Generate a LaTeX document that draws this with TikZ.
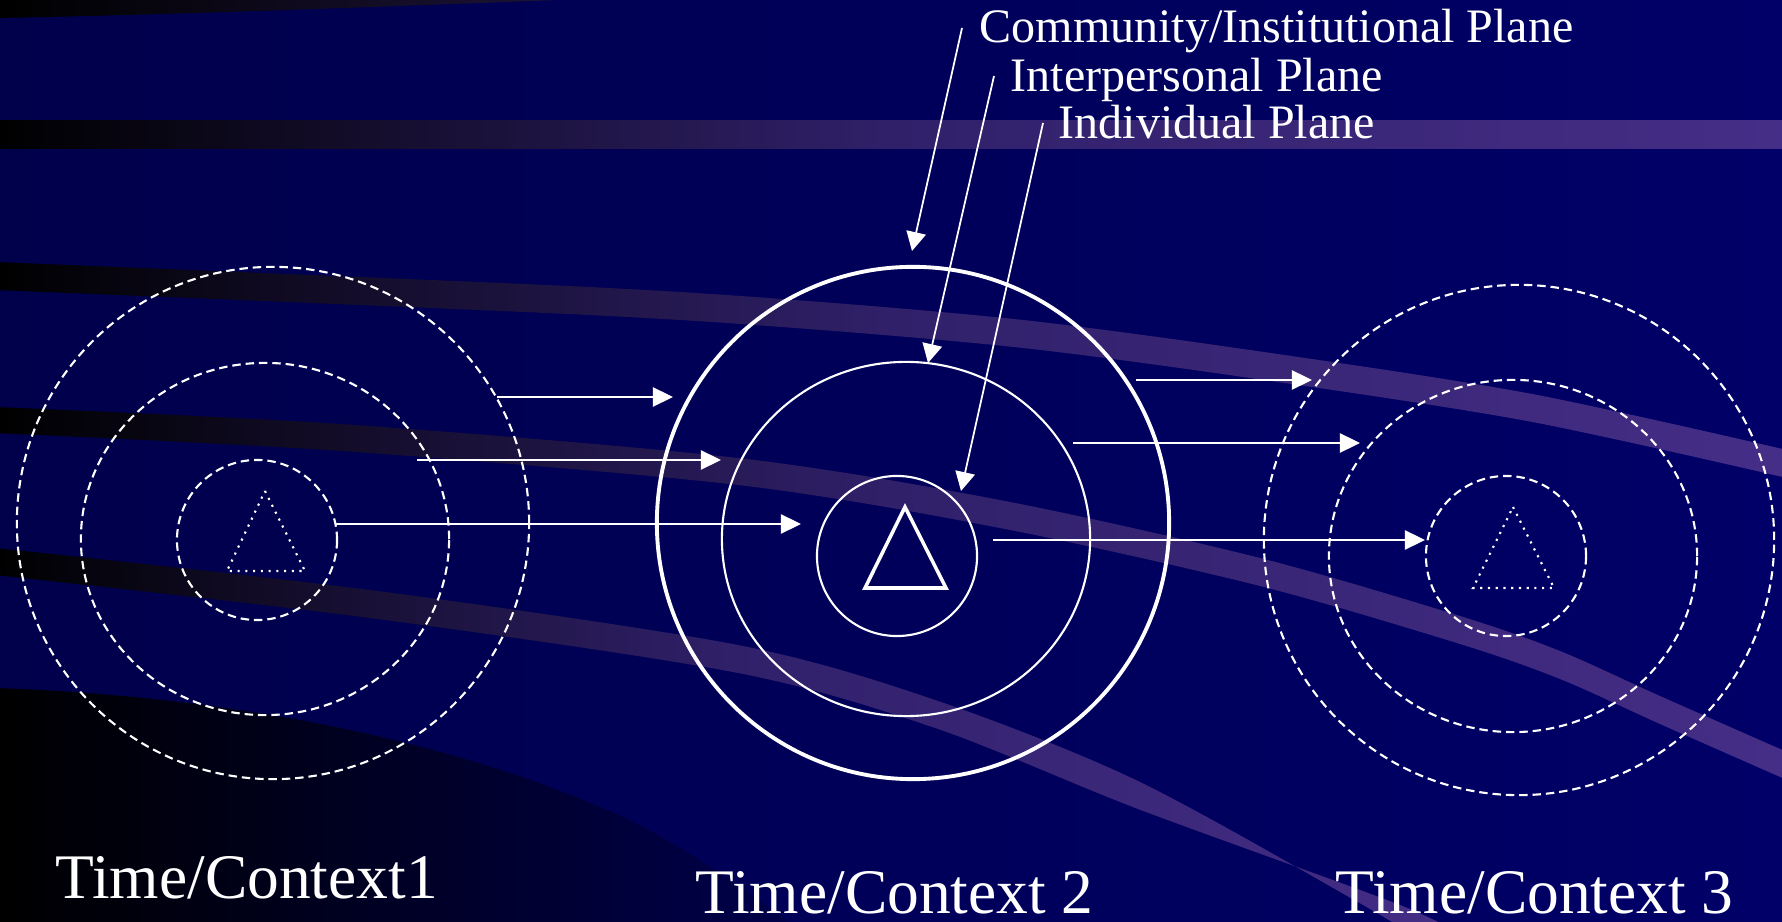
\documentclass[tikz,border=0pt]{standalone}
\usepackage{fontspec}
\setmainfont{Liberation Serif}
\usetikzlibrary{arrows.meta}

\definecolor{navyleft}{RGB}{0,0,75}
\definecolor{navyright}{RGB}{0,0,104}
\definecolor{bandmid}{RGB}{48,32,106}
\definecolor{bandend}{RGB}{69,46,135}

\tikzset{
    ring/.style={draw=white, line width=0.6pt},
    dashring/.style={draw=white, line width=0.6pt, dash pattern=on 2.4pt off 1.4pt},
    dotline/.style={draw=white, line width=0.6pt, dash pattern=on 0.6pt off 1.6pt},
    flow/.style={draw=white, line width=0.7pt, -{Triangle[length=5.7pt,width=5.4pt]}},
    pointer/.style={draw=white, line width=0.5pt, -{Triangle[length=5.4pt,width=5.6pt]}},
    planelabel/.style={anchor=base west, text=white, inner sep=0pt,
        font=\fontsize{13.66pt}{16pt}\selectfont},
    timelabel/.style={anchor=base west, text=white, inner sep=0pt,
        font=\fontsize{18.05pt}{21pt}\selectfont},
    band/.style={left color=black, right color=bandend, middle color=bandmid},
}

\begin{document}
\begin{tikzpicture}[x=0.01cm, y=-0.01cm]

    % Background and the light bands
    \useasboundingbox (0,0) rectangle (1782,922);
    \shade[left color=navyleft, right color=navyright] (0,0) rectangle (1782,922);
    \shade[left color=black, right color=bandend!40!black] (0,0) -- (0,18)
        .. controls (200,14) and (400,6) .. (560,0) -- cycle;
    \shade[band] (-5,121) rectangle (1787,149);
    \shade[band] plot[smooth] coordinates {(-5,262) (568,286) (795,300) (1023,320)
        (1250,350) (1527,393) (1787,450)}
        -- plot[smooth] coordinates {(1787,478) (1527,421) (1250,378) (1023,348)
        (795,328) (568,314) (-5,290)} -- cycle;
    \shade[band] plot[smooth] coordinates {(-5,407) (341,424) (738,458) (1005,501)
        (1260,558) (1460,616) (1560,651) (1660,696) (1787,752)}
        -- plot[smooth] coordinates {(1787,780) (1660,724) (1560,679) (1460,644)
        (1260,586) (1005,529) (738,485) (341,451) (-5,433)} -- cycle;
    \shade[band] plot[smooth] coordinates {(-5,548) (370,590) (738,645) (938,701)
        (1138,781) (1363,905) (1420,940)}
        -- plot[smooth] coordinates {(1470,940) (1400,905) (1138,809) (938,729)
        (738,673) (370,618) (-5,575)} -- cycle;
    \shade[left color=black, middle color=black, right color=navyleft] (-5,688)
        .. controls (230,696) and (455,740) .. (625,818)
        .. controls (700,855) and (760,900) .. (800,930) -- (-5,930) -- cycle;

    % Time/Context 1
    \draw[dashring] (273,523) circle [radius=2.56cm];
    \draw[dashring] (265,539) ellipse [x radius=1.84cm, y radius=1.76cm];
    \draw[dashring] (257,540) circle [radius=0.8cm];
    \draw[dotline] (265,491) -- (305,571) -- (227,571) -- cycle;

    % Time/Context 2
    \draw[white, line width=1.1pt] (913,523) circle [radius=2.56cm];
    \draw[ring] (906,539) ellipse [x radius=1.84cm, y radius=1.77cm];
    \draw[ring] (897,556) circle [radius=0.8cm];
    \draw[white, line width=1pt] (905,507) -- (946,588) -- (865,588) -- cycle;

    % Time/Context 3
    \draw[dashring] (1519,540) circle [radius=2.55cm];
    \draw[dashring] (1513,556) ellipse [x radius=1.84cm, y radius=1.76cm];
    \draw[dashring] (1506,556) circle [radius=0.8cm];
    \draw[dotline] (1513,507) -- (1554,588) -- (1473,588) -- cycle;

    % Ends of the arrows between the contexts
    \coordinate (outA) at (497,397);
    \coordinate (outB) at (673,397);
    \coordinate (midA) at (417,460);
    \coordinate (midB) at (721,460);
    \coordinate (innA) at (336,524);
    \coordinate (innB) at (801,524);
    \coordinate (outC) at (1136,380);
    \coordinate (outD) at (1312,380);
    \coordinate (midC) at (1073,443);
    \coordinate (midD) at (1360,443);
    \coordinate (innC) at (993,540);
    \coordinate (innD) at (1425,540);

    \draw[flow] (outA) -- (outB);
    \draw[flow] (midA) -- (midB);
    \draw[flow] (innA) -- (innB);
    \draw[flow] (outC) -- (outD);
    \draw[flow] (midC) -- (midD);
    \draw[flow] (innC) -- (innD);

    % Label the planes
    \node[planelabel] (community) at (979,43) {Community/Institutional Plane};
    \node[planelabel] (interpersonal) at (1010,92) {Interpersonal Plane};
    \node[planelabel] (individual) at (1058,139) {Individual Plane};

    \coordinate (communityTail) at (962,28);
    \coordinate (communityTip) at (912,251);
    \coordinate (interpersonalTail) at (994,76);
    \coordinate (interpersonalTip) at (928,363);
    \coordinate (individualTail) at (1043,123);
    \coordinate (individualTip) at (961,491);

    \draw[pointer] (communityTail) -- (communityTip);
    \draw[pointer] (interpersonalTail) -- (interpersonalTip);
    \draw[pointer] (individualTail) -- (individualTip);

    % Label the contexts
    \node[timelabel] (ctxOne) at (55,898) {Time/Context1};
    \node[timelabel] (ctxTwo) at (695,913) {Time/Context 2};
    \node[timelabel] (ctxThree) at (1335,913) {Time/Context 3};
\end{tikzpicture}
\end{document}
